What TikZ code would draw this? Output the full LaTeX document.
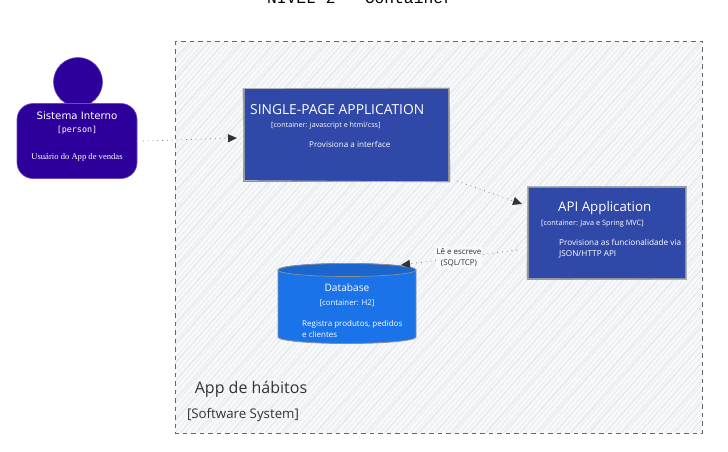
\documentclass[tikz,border=0pt]{standalone}
\usepackage{fontspec}
\setmainfont{Open Sans}
\newfontfamily\handfont{DejaVu Sans}
\newfontfamily\monofont{DejaVu Sans Mono}
\newfontfamily\seriffont{Liberation Serif}
\newfontfamily\titlefont{Liberation Mono}
\usetikzlibrary{arrows.meta,positioning}
\definecolor{hatchbg}{HTML}{F8F9FA}
\definecolor{hatchline}{HTML}{EAEDF0}
\definecolor{hatchdark}{HTML}{E4E8EC}
\definecolor{personblue}{HTML}{2E009B}
\definecolor{appblue}{HTML}{3049A8}
\definecolor{dbblue}{HTML}{1A73E8}
\definecolor{dbtop}{HTML}{1A66CC}
\definecolor{edgegrey}{HTML}{8A8F99}
\definecolor{inktext}{HTML}{333333}
\tikzset{
    container/.style={draw=edgegrey, fill=appblue, line width=1.1pt, inner sep=0pt},
    sketchedge/.style={draw=edgegrey!70!white, line width=0.7pt},
    boxtext/.style={text=white, inner sep=0pt, anchor=west, align=left},
    flowplain/.style={draw=gray, line width=0.8pt, dash pattern=on 0.8pt off 4pt},
    flow/.style={flowplain, -{Triangle[length=9pt,width=8pt,color=inktext,sep=0pt]}}
}
\begin{document}
\begin{tikzpicture}[x=1pt,y=-1pt]
    \useasboundingbox (0,0) rectangle (728,452);

    % Title, cut by the top edge
    \begin{scope}
        \clip (0,0) rectangle (728,452);
        \node[inner sep=0pt, font=\titlefont\fontsize{16.3}{16}\selectfont, text=black] (title) at (360,-3) {NÍVEL 2 - Container};
    \end{scope}

    % Software system area
    \fill[hatchbg] (175,41) rectangle (702,433);
    \begin{scope}
        \clip (175,41) rectangle (702,433);
        \foreach \i in {0,5,...,900}
            \draw[hatchline, line width=1pt] (175+\i-340,433) -- (175+\i,41);
        \foreach \i in {0,17,...,900}
            \draw[hatchdark, line width=0.7pt] (175+\i-352,433) -- (175+\i,41);
    \end{scope}
    \draw[draw=gray!80!black, line width=0.9pt, dash pattern=on 4.5pt off 4pt] (175,41) rectangle (702,433);
    \node[font=\fontsize{16}{18}\selectfont, text=inktext, inner sep=0pt] (sysname) at (251,389.5) {App de hábitos};
    \node[font=\fontsize{13.3}{16}\selectfont, text=inktext, inner sep=0pt] (systype) at (243,415) {[Software System]};

    % Person
    \fill[personblue, draw=personblue!70!white, line width=0.6pt] (78,82) circle (24.5);
    \node[fill=personblue, draw=personblue!70!white, line width=0.6pt, rounded corners=16pt, minimum width=120pt, minimum height=75pt, inner sep=0pt] (person) at (77,141) {};
    \node[font=\handfont\fontsize{10.2}{11}\selectfont, text=white, inner sep=0pt] (personname) at (77,116) {Sistema Interno};
    \node[font=\monofont\fontsize{8.4}{11}\selectfont, text=white, inner sep=0pt] (persontype) at (77,130) {[person]};
    \node[font=\seriffont\fontsize{8.6}{10}\selectfont, text=white, inner sep=0pt] (persondesc) at (77,157) {Usuário do App de vendas};

    % Single-page application
    \node[container, minimum width=205pt, minimum height=93pt] (spa) at (346.5,135) {};
    \draw[sketchedge] (243,88.5) -- (449.5,88) -- (450,182) -- (244,180.5) -- cycle;
    \node[boxtext, font=\fontsize{13.8}{16}\selectfont] (spaname) at (250,110) {SINGLE-PAGE APPLICATION};
    \node[boxtext, font=\fontsize{7.2}{8}\selectfont] (spatype) at (271,126) {[container: javascript e html/css]};
    \node[boxtext, font=\fontsize{8.1}{9}\selectfont] (spadesc) at (309,144) {Provisiona a interface};

    % API application
    \node[container, minimum width=158pt, minimum height=92pt] (api) at (607,233) {};
    \draw[sketchedge] (527.5,186.5) -- (686.5,187) -- (686.5,279.5) -- (527,279) -- cycle;
    \node[boxtext, font=\fontsize{13.3}{15}\selectfont] (apiname) at (558,208) {API Application};
    \node[boxtext, font=\fontsize{7.3}{8}\selectfont] (apitype) at (541,224) {[container: Java e Spring MVC]};
    \node[boxtext, font=\fontsize{8.2}{11}\selectfont] (apidesc) at (559,249) {Provisiona as funcionalidade via\\JSON/HTTP API};

    % Database
    \draw[draw=edgegrey, fill=dbblue, line width=0.9pt] (278,270) -- (278,337) arc[start angle=180,end angle=0,x radius=69,y radius=6.5] -- (416,270) arc[start angle=0,end angle=-180,x radius=69,y radius=6.5] -- cycle;
    \draw[draw=edgegrey, fill=dbtop, line width=0.7pt] (347,270) ellipse[x radius=69,y radius=6.5];
    \node[text=white, inner sep=0pt, font=\fontsize{10.2}{11}\selectfont] (dbname) at (347,288) {Database};
    \node[text=white, inner sep=0pt, font=\fontsize{7.8}{9}\selectfont] (dbtype) at (347,303) {[container: H2]};
    \node[boxtext, font=\fontsize{8}{11}\selectfont] (dbdesc) at (302,329) {Registra produtos, pedidos\\e clientes};

    % Connectors
    \coordinate (personout) at (143,141);
    \coordinate (spain) at (237,138);
    \coordinate (spaout) at (457,181);
    \coordinate (apiin) at (522,204);
    \coordinate (apiout) at (517,250);
    \coordinate (dbin) at (401,265);
    \draw[flow] (personout) -- (spain);
    \draw[flow] (spaout) -- (apiin);
    \draw[flow] (apiout) -- (dbin);
    \node[fill=hatchbg, font=\fontsize{7.9}{11}\selectfont, text=inktext, inner sep=1pt, align=center] (dblabel) at (459,257.5) {Lê e escreve\\(SQL/TCP)};
\end{tikzpicture}
\end{document}
